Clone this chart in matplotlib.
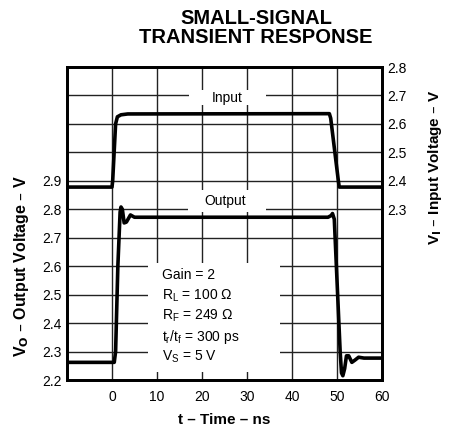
import matplotlib.pyplot as plt
from matplotlib.patches import Rectangle

plt.rcParams['font.family'] = ['Liberation Sans', 'DejaVu Sans']

# time in ns, voltages in V
out_t = [-10, 0.5, 0.8, 1.3, 1.8, 2.0, 2.3, 2.7, 3.2, 4.1, 5.0, 48.0, 48.7, 49.0, 49.4,
         50.7, 51.0, 51.3, 51.7, 52.1, 52.6, 53.3, 54.0, 54.8, 56, 60]
out_v = [2.262, 2.262, 2.30, 2.60, 2.79, 2.808, 2.80, 2.752, 2.755, 2.78, 2.772, 2.772, 2.778,
         2.785, 2.765, 2.30, 2.225, 2.215, 2.24, 2.285, 2.285, 2.262, 2.27, 2.28, 2.277, 2.277]

in_t = [-10, 0, 0.15, 0.8, 1.2, 2.0, 3.5, 48.3, 48.6, 50.3, 50.5, 60]
in_v = [2.378, 2.378, 2.40, 2.60, 2.625, 2.632, 2.635, 2.636, 2.62, 2.40, 2.378, 2.378]

x_ticks = [0, 10, 20, 30, 40, 50, 60]
left_ticks = [2.2, 2.3, 2.4, 2.5, 2.6, 2.7, 2.8, 2.9, 3.0, 3.1, 3.2, 3.3]
left_labels = ['2.2', '2.3', '2.4', '2.5', '2.6', '2.7', '2.8', '2.9', '', '', '', '']
right_ticks = [2.3, 2.4, 2.5, 2.6, 2.7, 2.8]

notes = ['Gain = 2', r'R$_\mathregular{L}$ = 100 Ω', r'R$_\mathregular{F}$ = 249 Ω',
         r't$_\mathregular{r}$/t$_\mathregular{f}$ = 300 ps', r'V$_\mathregular{S}$ = 5 V']

fig = plt.figure(figsize=(4.54, 4.3), dpi=100)
ax = fig.add_axes([67/454, 50/430, 315/454, 313/430])
ax.set_xlim(-10, 60)
ax.set_ylim(2.2, 3.3)
ax.set_xticks([-10] + x_ticks)
ax.set_xticklabels([''] + [str(v) for v in x_ticks], fontsize=10)
ax.set_yticks(left_ticks)
ax.set_yticklabels(left_labels, fontsize=10)
ax.tick_params(length=0, pad=4)
ax.tick_params(axis='x', pad=7)
ax.grid(True, color='#222222', linewidth=1)
for s in ax.spines.values():
    s.set_linewidth(2)

ax.plot(out_t, out_v, color='black', linewidth=2.6, zorder=4)

ax2 = ax.twinx()
ax2.set_ylim(1.7, 2.8)
ax2.set_yticks(right_ticks)
ax2.set_yticklabels([f'{v:.1f}' for v in right_ticks], fontsize=10)
ax2.tick_params(length=0, pad=4)
for s in ax2.spines.values():
    s.set_linewidth(2)
ax2.plot(in_t, in_v, color='black', linewidth=2.6, zorder=4)

# white label boxes that break the grid
def pix_box(x0, y0, x1, y1):
    r = Rectangle((x0/454, 1 - y1/430), (x1 - x0)/454, (y1 - y0)/430,
                  transform=fig.transFigure, facecolor='white', edgecolor='none', zorder=2)
    ax.add_patch(r)

pix_box(189, 90, 266, 105)
pix_box(188, 190, 266, 212)
pix_box(148, 263, 280, 372)

fig.text(227/454, 1 - 98/430, 'Input', fontsize=10, ha='center', va='center')
fig.text(225/454, 1 - 201/430, 'Output', fontsize=10, ha='center', va='center')
for i, line in enumerate(notes):
    fig.text(162/454, 1 - (275 + 20.5*i)/430, line, fontsize=10, ha='left', va='center')

fig.text(256/454, 1 - 28/430, 'SMALL-SIGNAL\nTRANSIENT RESPONSE', fontsize=14.5,
         fontweight='bold', ha='center', va='center', linespacing=1.0)
fig.text(224/454, 1 - 420/430, 't – Time – ns', fontsize=11, fontweight='bold',
         ha='center', va='center')
fig.text(22/454, 1 - 266/430, r'V$_\mathbf{O}$ – Output Voltage – V', fontsize=11.5,
         fontweight='bold', rotation=90, ha='center', va='center')
fig.text(435/454, 1 - 167/430, r'V$_\mathbf{I}$ – Input Voltage – V', fontsize=11,
         fontweight='bold', rotation=90, ha='center', va='center')

fig.savefig('out.png', dpi=100)
